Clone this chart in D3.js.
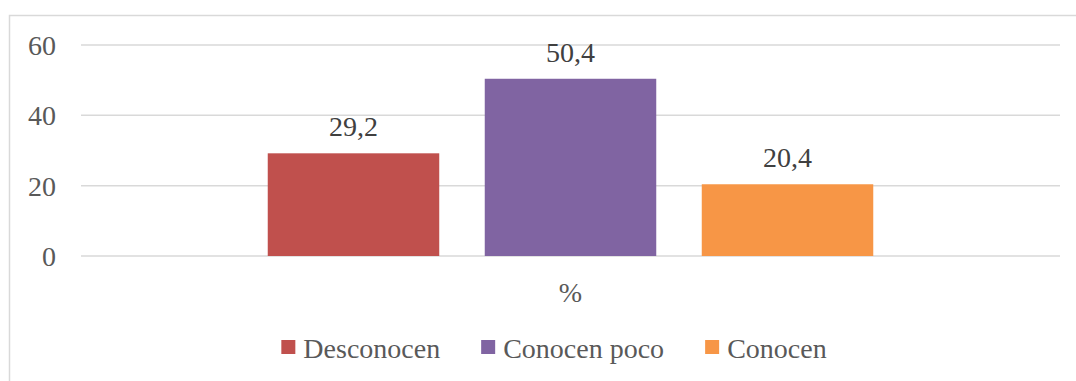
<!DOCTYPE html>
<html>
<head>
<meta charset="utf-8">
<script src="https://cdn.jsdelivr.net/npm/d3@7"></script>
<style>
html,body{margin:0;padding:0;background:#fff;}
svg{display:block;}
</style>
</head>
<body>
<svg id="chart" width="1076" height="381"></svg>
<script>
const categories = ["%"];
const seriesNames = ["Desconocen", "Conocen poco", "Conocen"];
const seriesValues = [29.2, 50.4, 20.4];
const valueLabels = ["29,2", "50,4", "20,4"];
const seriesColors = ["#C0504D", "#8064A2", "#F79646"];
const yTicks = [0, 20, 40, 60];

(function () {
const FONT = "'Liberation Serif', 'Times New Roman', Tinos, 'DejaVu Serif', 'Noto Serif', serif";
const svg = d3.select("#chart").style("font-family", FONT);
const pLeft = 81, pRight = 1060, pTop = 45, pBottom = 256;

// outer frame
svg.append("rect").attr("x", 9.5).attr("y", 15.5).attr("width", 1100).attr("height", 400)
  .attr("fill", "#fff").attr("stroke", "#d9d9d9").attr("stroke-width", 1.5);

const y = d3.scaleLinear().domain([0, 60]).range([pBottom, pTop]);
const x0 = d3.scaleBand().domain(categories).range([pLeft, pRight]).paddingOuter(0.3084);
const x1 = d3.scaleBand().domain(seriesNames).range([0, x0.bandwidth()]).paddingInner(0.2097);

// gridlines
svg.append("g").selectAll("line").data(yTicks).join("line")
  .attr("x1", pLeft).attr("x2", pRight)
  .attr("y1", d => y(d)).attr("y2", d => y(d))
  .attr("stroke", "#d9d9d9").attr("stroke-width", 1.5);

// y axis labels
const yAxis = d3.axisLeft(y).tickValues(yTicks).tickSize(0).tickPadding(25);
const gy = svg.append("g").attr("transform", `translate(${pLeft},0)`).call(yAxis);
gy.attr("font-family", null).attr("font-size", null);
gy.select(".domain").remove();
gy.selectAll("text").style("font-family", FONT).style("font-size", "28px").attr("fill", "#595959")
  .attr("dy", "0.34em");

// bars
const g = svg.append("g");
categories.forEach(cat => {
  seriesNames.forEach((s, i) => {
    const bx = x0(cat) + x1(s);
    g.append("rect")
      .attr("x", bx).attr("y", y(seriesValues[i]))
      .attr("width", x1.bandwidth()).attr("height", y(0) - y(seriesValues[i]))
      .attr("fill", seriesColors[i]);
    g.append("text")
      .attr("x", bx + x1.bandwidth() / 2).attr("y", y(seriesValues[i]) - 17)
      .attr("text-anchor", "middle").style("font-size", "28px").style("font-family", FONT).attr("fill", "#404040")
      .text(valueLabels[i]);
  });
});

// x axis category label
const xAxis = d3.axisBottom(x0).tickSize(0).tickPadding(26);
const gx = svg.append("g").attr("transform", `translate(0,${pBottom})`).call(xAxis);
gx.attr("font-family", null).attr("font-size", null);
gx.select(".domain").remove();
gx.selectAll("text").style("font-size", "28px").style("font-family", FONT).attr("fill", "#595959");

// legend
const leg = svg.append("g");
const sq = 14, gapText = 8, gapItem = 41;
let cx = 0;
seriesNames.forEach((s, i) => {
  const it = leg.append("g");
  it.append("rect").attr("x", 0).attr("y", -sq).attr("width", sq).attr("height", sq).attr("fill", seriesColors[i]);
  const t = it.append("text").attr("x", sq + gapText).attr("y", 3.5)
    .style("font-size", "28px").style("font-family", FONT).attr("fill", "#595959").text(s);
  const w = t.node().getComputedTextLength();
  it.attr("transform", `translate(${cx},0)`);
  cx += sq + gapText + w + gapItem;
});
const total = cx - gapItem;
leg.attr("transform", `translate(${554 - total / 2},354)`);
})();
</script>
</body>
</html>
